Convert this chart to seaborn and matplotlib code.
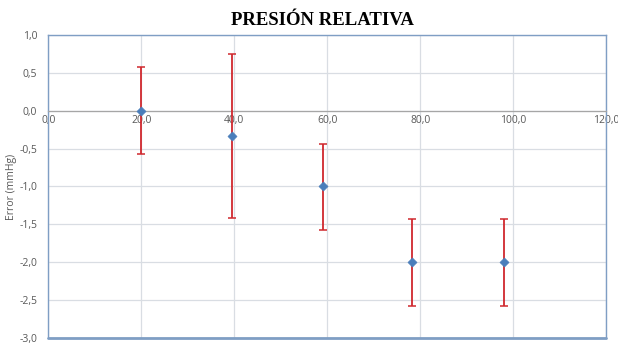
import numpy as np
import pandas as pd
import matplotlib
matplotlib.use("Agg")
import matplotlib.pyplot as plt
import seaborn as sns

# Data
presion = [20.0, 39.6, 59.1, 78.2, 98.1]
error = [0.0, -0.33, -1.0, -2.0, -2.0]
err_sup = [0.58, 1.08, 0.56, 0.57, 0.57]
err_inf = [0.57, 1.09, 0.57, 0.58, 0.58]

x_ticks = [0, 20, 40, 60, 80, 100, 120]
y_ticks = [-3.0, -2.5, -2.0, -1.5, -1.0, -0.5, 0.0, 0.5, 1.0]

df = pd.DataFrame({"Presion": presion, "Error": error})

sns.set_style("white")
plt.rcParams['font.family'] = ['Open Sans', 'DejaVu Sans']

fig = plt.figure(figsize=(6.18, 3.44), dpi=100)
ax = fig.add_axes([0.078, 0.018, 0.903, 0.880])

border = "#7f9ec4"
grid_c = "#d9dde3"
txt_c = "#595959"

# error bars first, markers on top
ax.errorbar(df["Presion"], df["Error"], yerr=[err_inf, err_sup], fmt="none",
            ecolor="#d0282e", elinewidth=1.3, capsize=3, capthick=1.1, zorder=3)
sns.scatterplot(data=df, x="Presion", y="Error", marker="D", s=22,
                color="#4a7ebb", edgecolor="#4a7ebb", ax=ax, zorder=4)

ax.set_xlim(0, 120)
ax.set_ylim(-3, 1)
ax.set_xticks(x_ticks)
ax.set_yticks(y_ticks)
ax.set_xticklabels([f"{v:.1f}".replace(".", ",") for v in x_ticks])
ax.set_yticklabels([f"{v:.1f}".replace(".", ",") for v in y_ticks])
ax.grid(True, color=grid_c, linewidth=0.9)
ax.set_axisbelow(True)

# x axis crosses at y = 0
ax.spines['bottom'].set_position(('data', 0))
ax.spines['bottom'].set_color("#a6a6a6")
ax.spines['bottom'].set_linewidth(0.9)
for s in ['top', 'right', 'left']:
    ax.spines[s].set_color(border)
    ax.spines[s].set_linewidth(1.0)
ax.axhline(-3, color=border, linewidth=2.0, zorder=5, clip_on=False)

ax.tick_params(axis='x', length=0, pad=3, labelsize=7.5, labelcolor=txt_c)
ax.tick_params(axis='y', length=0, pad=8, labelsize=7.5, labelcolor=txt_c)

ax.set_xlabel("")
ax.set_ylabel("Error (mmHg)", fontsize=7.5, color=txt_c)
ax.yaxis.set_label_coords(-0.056, 0.50)

fig.text(0.522, 0.94, "PRESIÓN RELATIVA", ha="center", va="center", color="black",
         fontsize=13.5, fontweight="bold", family="Liberation Serif")

fig.savefig("out.png", dpi=100, facecolor="white")
